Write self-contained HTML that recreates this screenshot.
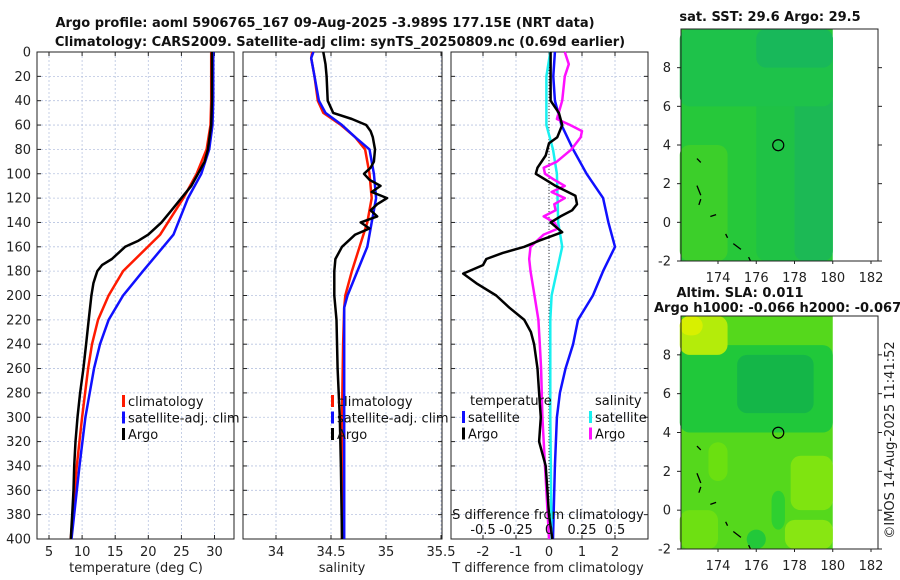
<!DOCTYPE html>
<html><head><meta charset="utf-8"><style>
body{margin:0;background:#fff;}
svg{display:block;font-family:"DejaVu Sans","Liberation Sans",sans-serif;}
</style></head><body>
<svg id="fig" width="900" height="580" viewBox="0 0 900 580"></svg>
<script>
// ---------- data ----------
const depthTicks=[0,20,40,60,80,100,120,140,160,180,200,220,240,260,280,300,320,340,360,380,400];
const tempTicks=[5,10,15,20,25,30];
const salTicks=[34,34.5,35,35.5];
const tdiffTicks=[-2,-1,0,1,2];
const sdiffTicks=[-0.5,-0.25,0,0.25,0.5];
const mapXTicks=[174,176,178,180,182];
const mapYTicks=[-2,0,2,4,6,8];

const tArgoDepth=[0,40,60,80,90,100,110,120,130,140,150,155,160,165,170,175,180,185,190,200,220,240,260,280,300,320,340,360,380,400];
const tArgo=[29.6,29.6,29.5,29.0,28.5,27.5,26.5,25,23.5,22,20,18.5,16.5,15.5,14.5,13,12.3,12,11.7,11.4,11,10.6,10.2,9.7,9.3,9.0,8.8,8.7,8.5,8.3];
const tClimDepth=[0,40,60,80,100,120,150,180,200,220,240,260,300,340,400];
const tClim=[29.5,29.5,29.4,28.8,27.3,25.3,21.8,16.2,14,12.4,11.5,10.9,10,9.2,8.3];
const tSat=[29.8,29.8,29.7,29.2,28,26,23.8,19.2,16.2,14,12.7,11.8,10.5,9.6,8.4];

const sArgoDepth=[0,10,20,40,50,55,60,65,70,80,90,95,100,105,110,115,120,125,130,135,140,145,150,160,170,180,200,210,220,260,300,340,400];
const sArgo=[34.43,34.45,34.46,34.47,34.52,34.69,34.82,34.86,34.88,34.9,34.89,34.86,34.8,34.85,34.95,34.87,35.01,34.92,34.86,34.92,34.77,34.85,34.72,34.6,34.54,34.53,34.53,34.54,34.55,34.56,34.58,34.59,34.6];
const sClimDepth=[0,5,20,40,50,60,70,80,100,120,140,160,180,200,210,240,300,400];
const sClim=[34.33,34.32,34.35,34.38,34.43,34.59,34.72,34.81,34.85,34.87,34.83,34.76,34.69,34.63,34.62,34.61,34.6,34.6];
const sSat=[34.34,34.32,34.35,34.39,34.45,34.6,34.72,34.85,34.89,34.91,34.87,34.83,34.74,34.65,34.62,34.62,34.62,34.62];

const dTsatDepth=[0,20,40,60,80,100,120,140,160,180,200,220,240,260,280,300,340,400];
const dTsat=[0.18,0.13,0.18,0.38,0.73,1.14,1.64,1.8,2.0,1.64,1.33,0.88,0.73,0.5,0.33,0.24,0.18,0.12];
const dTargoDepth=[0,40,50,60,70,75,85,95,100,105,110,118,125,130,135,140,148,155,160,165,170,175,182,190,200,210,220,230,240,260,280,300,320,340,360,380,400];
const dTargo=[0.05,0.05,0.3,0.4,0.25,0,-0.1,-0.35,-0.4,-0.1,0.2,0.8,0.85,0.7,0.35,0.05,0.4,-0.3,-0.75,-1.4,-1.9,-2.0,-2.6,-2.2,-1.6,-1.2,-0.75,-0.55,-0.45,-0.35,-0.3,-0.25,-0.3,-0.1,-0.05,0,0.1];
const dSsatDepth=[0,20,60,80,100,140,160,180,200,220,300,400];
const dSsat=[0.01,-0.02,-0.02,0.03,0.06,0.07,0.1,0.06,0.02,0.01,0.01,0.02];
const dSargoDepth=[0,10,20,40,55,60,65,70,80,90,95,100,105,110,115,120,125,130,135,140,145,150,155,160,170,180,200,220,240,260,300,340,380,400];
const dSargo=[0.12,0.15,0.12,0.1,0.06,0.16,0.25,0.24,0.17,0.06,-0.04,-0.03,0.04,0.12,0.02,0.12,0.04,0.05,-0.04,0.04,0.07,-0.04,-0.09,-0.14,-0.15,-0.14,-0.11,-0.08,-0.07,-0.06,-0.05,-0.03,-0.01,0];

const floatLon=177.15, floatLat=3.989;

// ---------- helpers ----------
const NS="http://www.w3.org/2000/svg";
const svg=document.getElementById('fig');
function el(tag,attrs,parent,text){const e=document.createElementNS(NS,tag);for(const k in attrs)e.setAttribute(k,attrs[k]);if(text!==undefined)e.textContent=text;(parent||svg).appendChild(e);return e;}
const Y0=52,Y1=539;
const yD=d=>Y0+d/400*(Y1-Y0);
function lin(d0,d1,p0,p1){return v=>p0+(v-d0)/(d1-d0)*(p1-p0);}

function panel(x0,x1,name,xs,xticks,xfmt,yLabels){
  const g=el('g',{},svg);
  
  
  xticks.forEach(t=>{const x=xs(t);
    const gl=el('line',{x1:x,x2:x,y1:Y0,y2:Y1,stroke:'#b8c4e0','stroke-width':0.8,'stroke-dasharray':'2,2'},g);
    
    el('line',{x1:x,x2:x,y1:Y1,y2:Y1-4,stroke:'#222'},g);el('line',{x1:x,x2:x,y1:Y0,y2:Y0+4,stroke:'#222'},g);
    const tl=el('text',{x:x,y:556,'text-anchor':'middle','font-size':13,fill:'#222'},g,xfmt(t));
    
  });
  depthTicks.forEach(d=>{const y=yD(d);
    if(d>0&&d<400){const gl=el('line',{x1:x0,x2:x1,y1:y,y2:y,stroke:'#b8c4e0','stroke-width':0.8,'stroke-dasharray':'2,2'},g);
    }
    el('line',{x1:x0,x2:x0+4,y1:y,y2:y,stroke:'#222'},g);el('line',{x1:x1,x2:x1-4,y1:y,y2:y,stroke:'#222'},g);
    if(yLabels){const tl=el('text',{x:31,y:y+4.5,'text-anchor':'end','font-size':13,fill:'#222'},g,String(d));
      }
  });
  const b=el('rect',{x:x0,y:Y0,width:x1-x0,height:Y1-Y0,fill:'none',stroke:'#222','stroke-width':1},g);
  
  return g;
}
function series(g,depths,vals,xs,color,name,w){
  const pts=depths.map((d,i)=>xs(vals[i]).toFixed(1)+','+yD(d).toFixed(1)).join(' ');
  const p=el('polyline',{points:pts,fill:'none',stroke:color,'stroke-width':w||2.5,'stroke-linejoin':'round'},g);
  
}
function legend(g,x,y,items){
  items.forEach((it,i)=>{const yy=y+i*16.5;
    const m=el('rect',{x:x,y:yy-11,width:3,height:12,fill:it[1]},g);
    
    const t=el('text',{x:x+6,y:yy,'font-size':13,fill:'#111'},g,it[0]);
    
  });
}

// titles
let t=el('text',{x:325,y:27,'text-anchor':'middle','font-size':13,'font-weight':'bold',fill:'#111'},svg,'Argo profile: aoml 5906765_167 09-Aug-2025 -3.989S 177.15E (NRT data)');

t=el('text',{x:340,y:46,'text-anchor':'middle','font-size':13,'font-weight':'bold',fill:'#111'},svg,'Climatology: CARS2009. Satellite-adj clim: synTS_20250809.nc (0.69d earlier)');


// panel 1 temperature
const xT=lin(5,30,49,214.5);
const g1=panel(37,234,'temperature-panel',xT,tempTicks,String,true);
series(g1,tClimDepth,tClim,xT,'#ff1a00','climatology-temp-line');
series(g1,tClimDepth,tSat,xT,'#1010ff','satellite-temp-line');
series(g1,tArgoDepth,tArgo,xT,'#000','argo-temp-line');
legend(g1,122,406,[['climatology','#ff1a00'],['satellite-adj. clim','#1010ff'],['Argo','#000']]);
t=el('text',{x:136,y:572,'text-anchor':'middle','font-size':13,fill:'#222'},svg,'temperature (deg C)');


// panel 2 salinity
const xS=lin(34,35,276,386);
const g2=panel(243,442,'salinity-panel',xS,salTicks,String,false);
series(g2,sClimDepth,sClim,xS,'#ff1a00','climatology-salinity-line');
series(g2,sClimDepth,sSat,xS,'#1010ff','satellite-salinity-line');
series(g2,sArgoDepth,sArgo,xS,'#000','argo-salinity-line');
legend(g2,331,406,[['climatology','#ff1a00'],['satellite-adj. clim','#1010ff'],['Argo','#000']]);
t=el('text',{x:342,y:572,'text-anchor':'middle','font-size':13,fill:'#222'},svg,'salinity');


// panel 3 differences
const xDT=lin(0,1,549,582);
const xDS=lin(0,1,549,681);
const g3=panel(451,648,'difference-panel',xDT,tdiffTicks,String,false);
const z=el('line',{x1:549,x2:549,y1:Y0,y2:Y1,stroke:'#333','stroke-width':1,'stroke-dasharray':'1,2'},g3);

series(g3,dTsatDepth,dTsat,xDT,'#1010ff','satellite-temp-diff-line');
series(g3,dSsatDepth,dSsat,xDS,'#19f0f0','satellite-salinity-diff-line');
series(g3,dSargoDepth,dSargo,xDS,'#ff10ff','argo-salinity-diff-line');
series(g3,dTargoDepth,dTargo,xDT,'#000','argo-temp-diff-line');
t=el('text',{x:470,y:405,'font-size':13,fill:'#111'},g3,'temperature');
t=el('text',{x:595,y:405,'font-size':13,fill:'#111'},g3,'salinity');
legend(g3,462,422,[['satellite','#1010ff'],['Argo','#000']]);
legend(g3,589,422,[['satellite','#19f0f0'],['Argo','#ff10ff']]);
t=el('text',{x:548,y:519,'text-anchor':'middle','font-size':13,fill:'#111'},g3,'S difference from climatology');

sdiffTicks.forEach(v=>{const l=el('text',{x:xDS(v),y:534,'text-anchor':'middle','font-size':13,fill:'#111'},g3,String(v));
  });
t=el('text',{x:548,y:572,'text-anchor':'middle','font-size':13,fill:'#222'},svg,'T difference from climatology');


// maps
const mx=lin(174,182,718,871);
function map(top,bottom,name,patches,base){
  const my=lin(-2,10,bottom,top);
  const g=el('g',{},svg);
  
  el('rect',{x:681,y:top,width:mx(180)-681,height:bottom-top,fill:base},g);
  patches.forEach(p=>{const r=el('rect',{x:mx(p[0]),y:my(p[3]),width:mx(p[2])-mx(p[0]),height:my(p[1])-my(p[3]),fill:p[4],rx:10},g);
    });
  [[172.9,3.3,173.1,3.1],[172.9,1.9,173.1,1.4],[173.1,1.2,173.0,0.9],[173.6,0.3,173.9,0.4],[174.4,-0.6,174.5,-0.8],[174.8,-1.1,175.2,-1.4],[175.6,-1.8,175.7,-2]].forEach(c=>
    el('line',{x1:mx(c[0]),y1:my(c[1]),x2:mx(c[2]),y2:my(c[3]),stroke:'#000','stroke-width':1.3},g));
  const c=el('circle',{cx:mx(floatLon),cy:my(floatLat),r:5.5,fill:'none',stroke:'#000','stroke-width':1.2},g);
  
  el('rect',{x:681,y:top,width:878-681,height:bottom-top,fill:'none',stroke:'#222'},g);
  mapXTicks.forEach(v=>{const x=mx(v);el('line',{x1:x,x2:x,y1:bottom,y2:bottom+3,stroke:'#222'},g);
    const l=el('text',{x:x,y:bottom+21,'text-anchor':'middle','font-size':13,fill:'#222'},g,String(v));
    });
  mapYTicks.forEach(v=>{const y=my(v);el('line',{x1:681,x2:677,y1:y,y2:y,stroke:'#222'},g);el('line',{x1:878,x2:882,y1:y,y2:y,stroke:'#222'},g);
    const l=el('text',{x:671,y:y+4.5,'text-anchor':'end','font-size':13,fill:'#222'},g,String(v));
    });
}
map(29,261,'sst-map',[[172,-2,174.5,4,'#3ccf2a'],[176,-2,180,10,'#1fc245'],[178,-2,180,10,'#1cb955'],[172,6,180,10,'#1ec24a'],[176,8,180,10,'#18b85a']],'#26c83a');
t=el('text',{x:770,y:21,'text-anchor':'middle','font-size':13,'font-weight':'bold',fill:'#111'},svg,'sat. SST: 29.6 Argo: 29.5');


map(316,549,'sla-map',[[172,4,180,8.5,'#20c83a'],[175,5,179,8,'#14b648'],[172,8,174.5,10,'#b4ec0a'],[172,9,173.2,10,'#d8f000'],[173.5,1.5,174.5,3.5,'#6be010'],[177.8,0,180,2.8,'#7fe410'],[177.5,-2,180,-0.5,'#88e612'],[172,-2,174,0,'#6ee012'],[176.8,-1,177.5,1,'#2ed030'],[175.5,-2,176.5,-1,'#22c83a']],'#55d81c');
t=el('text',{x:740,y:297,'text-anchor':'middle','font-size':13,'font-weight':'bold',fill:'#111'},svg,'Altim. SLA: 0.011');

t=el('text',{x:654,y:312,'font-size':13,'font-weight':'bold',fill:'#111'},svg,'Argo h1000: -0.066 h2000: -0.067');


t=el('text',{x:0,y:0,'font-size':13,fill:'#222','text-anchor':'middle',transform:'translate(894,440) rotate(-90)'},svg,'©IMOS 14-Aug-2025 11:41:52');

</script>
</body></html>
